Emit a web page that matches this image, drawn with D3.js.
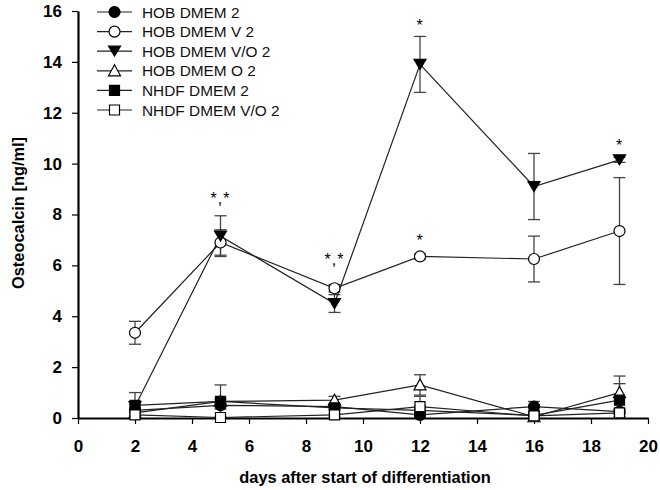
<!DOCTYPE html>
<html>
<head>
<meta charset="utf-8">
<script src="https://cdn.jsdelivr.net/npm/d3@7"></script>
<style>
  body { margin: 0; background: #fff; }
  text { font-family: Arial, "Liberation Sans", sans-serif; }
</style>
</head>
<body>
<div id="chart"></div>
<script>
// data
let days = [2, 5, 9, 12, 16, 19];
let seriesNames = ["HOB DMEM 2", "HOB DMEM V 2", "HOB DMEM V/O 2", "HOB DMEM O 2", "NHDF DMEM 2", "NHDF DMEM V/O 2"];
let seriesShapes = ["circle", "circle", "triangleDown", "triangleUp", "square", "square"];
let seriesFilled = [true, false, true, false, true, false];

let hobDmem = [0.3, 0.5, 0.45, 0.12, 0.45, 0.25];
let hobDmemErr = [0.1, 0.15, 0.1, 0.1, 0.2, 0.1];
let hobDmemV = [3.35, 6.9, 5.1, 6.35, 6.25, 7.35];
let hobDmemVErr = [0.45, 0.5, 0.15, 0.1, 0.9, 2.1];
let hobDmemVO = [0.45, 7.15, 4.5, 13.9, 9.1, 10.15];
let hobDmemVOErr = [0.1, 0.8, 0.35, 1.1, 1.3, 0.1];
let hobDmemO = [0.2, 0.65, 0.7, 1.3, 0.05, 1.0];
let hobDmemOErr = [0.1, 0.1, 0.15, 0.4, 0.05, 0.65];
let nhdfDmem = [0.5, 0.65, 0.4, 0.3, 0.1, 0.7];
let nhdfDmemErr = [0.5, 0.65, 0.1, 0.1, 0.05, 0.65];
let nhdfDmemVO = [0.12, 0.02, 0.12, 0.45, 0.08, 0.2];
let nhdfDmemVOErr = [0.05, 0.02, 0.05, 0.4, 0.05, 0.05];

let seriesValues = [hobDmem, hobDmemV, hobDmemVO, hobDmemO, nhdfDmem, nhdfDmemVO];
let seriesErrors = [hobDmemErr, hobDmemVErr, hobDmemVOErr, hobDmemOErr, nhdfDmemErr, nhdfDmemVOErr];

// significance marks: day, value, label
let markDays = [5, 9, 12, 12, 19];
let markValues = [8.73, 6.34, 15.54, 7.08, 10.8];
let markLabels = ["*,*", "*,*", "*", "*", "*"];

let xTicks = [0, 2, 4, 6, 8, 10, 12, 14, 16, 18, 20];
let yTicks = [0, 2, 4, 6, 8, 10, 12, 14, 16];

let svgWidth = 660;
let svgHeight = 490;

let svg = d3.select("#chart")
  .append("svg")
  .attr("width", svgWidth)
  .attr("height", svgHeight);

let xScale = d3.scaleLinear().domain([0, 20]).range([78, 648]);
let yScale = d3.scaleLinear().domain([0, 16]).range([418, 11]);

// marker path builder
function markerPath(shape, cx, cy) {
  if (shape === "circle") {
    let p = d3.path();
    p.arc(cx, cy, 5.5, 0, 2 * Math.PI);
    return p.toString();
  }
  if (shape === "square") {
    return `M${cx - 5},${cy - 5}h10v10h-10Z`;
  }
  if (shape === "triangleDown") {
    return `M${cx - 6},${cy - 5}L${cx + 6},${cy - 5}L${cx},${cy + 5}Z`;
  }
  return `M${cx - 6},${cy + 5}L${cx + 6},${cy + 5}L${cx},${cy - 6}Z`;
}

// axes
let xAxis = svg.append("g")
  .attr("transform", `translate(0, ${yScale(0)})`)
  .call(d3.axisBottom(xScale).tickValues(xTicks).tickSize(6).tickSizeOuter(0).tickPadding(16));

let yAxis = svg.append("g")
  .attr("transform", `translate(${xScale(0)}, 0)`)
  .call(d3.axisLeft(yScale).tickValues(yTicks).tickSize(6).tickSizeOuter(0).tickPadding(10));

[xAxis, yAxis].forEach(function(ax) {
  ax.select(".domain").attr("stroke", "#000").attr("stroke-width", 2.2);
  ax.selectAll(".tick line").attr("stroke", "#000").attr("stroke-width", 1.2);
  ax.selectAll(".tick text")
    .attr("font-family", "Arial, 'Liberation Sans', sans-serif")
    .attr("font-size", 17)
    .attr("font-weight", "bold")
    .attr("fill", "#000");
});

svg.append("text")
  .attr("x", 365)
  .attr("y", 483)
  .attr("text-anchor", "middle")
  .attr("font-size", 16.4)
  .attr("font-weight", "bold")
  .text("days after start of differentiation");

svg.append("text")
  .attr("transform", "translate(24, 213) rotate(-90)")
  .attr("text-anchor", "middle")
  .attr("font-size", 16.4)
  .attr("font-weight", "bold")
  .text("Osteocalcin [ng/ml]");

// error bars
seriesValues.forEach(function(vals, si) {
  let g = svg.append("g").attr("stroke", "#444").attr("stroke-width", 1.3);
  days.forEach(function(d, i) {
    let cx = xScale(d);
    let top = yScale(vals[i] + seriesErrors[si][i]);
    let bot = yScale(Math.max(0, vals[i] - seriesErrors[si][i]));
    g.append("line").attr("x1", cx).attr("x2", cx).attr("y1", top).attr("y2", bot);
    g.append("line").attr("x1", cx - 6).attr("x2", cx + 6).attr("y1", top).attr("y2", top);
    g.append("line").attr("x1", cx - 6).attr("x2", cx + 6).attr("y1", bot).attr("y2", bot);
  });
});

// lines
let line = d3.line()
  .x((v, i) => xScale(days[i]))
  .y(v => yScale(v));

seriesValues.forEach(function(vals) {
  svg.append("path")
    .attr("d", line(vals))
    .attr("fill", "none")
    .attr("stroke", "#222")
    .attr("stroke-width", 1.2);
});

// markers
seriesValues.forEach(function(vals, si) {
  svg.append("g")
    .selectAll("path")
    .data(vals)
    .enter()
    .append("path")
    .attr("d", (v, i) => markerPath(seriesShapes[si], xScale(days[i]), yScale(v)))
    .attr("fill", seriesFilled[si] ? "#000" : "#fff")
    .attr("stroke", "#000")
    .attr("stroke-width", 1.2);
});

// significance marks
svg.selectAll(".mark")
  .data(markLabels)
  .enter()
  .append("text")
  .attr("class", "mark")
  .attr("x", (t, i) => xScale(markDays[i]))
  .attr("y", (t, i) => yScale(markValues[i]))
  .attr("dy", "0.5em")
  .attr("text-anchor", "middle")
  .attr("font-family", "'Liberation Serif', serif")
  .attr("font-size", 16)
  .attr("letter-spacing", 1)
  .text(t => t);

// legend
let legend = svg.append("g");
seriesNames.forEach(function(name, i) {
  let ly = 12 + i * 19.6;
  legend.append("line")
    .attr("x1", 97).attr("x2", 132)
    .attr("y1", ly).attr("y2", ly)
    .attr("stroke", "#222").attr("stroke-width", 1.2);
  legend.append("path")
    .attr("d", markerPath(seriesShapes[i], 114.5, ly))
    .attr("fill", seriesFilled[i] ? "#000" : "#fff")
    .attr("stroke", "#000")
    .attr("stroke-width", 1.2);
  legend.append("text")
    .attr("x", 142)
    .attr("y", ly)
    .attr("dy", "0.36em")
    .attr("font-size", 15.4)
    .attr("fill", "#111")
    .text(name);
});
</script>
</body>
</html>
